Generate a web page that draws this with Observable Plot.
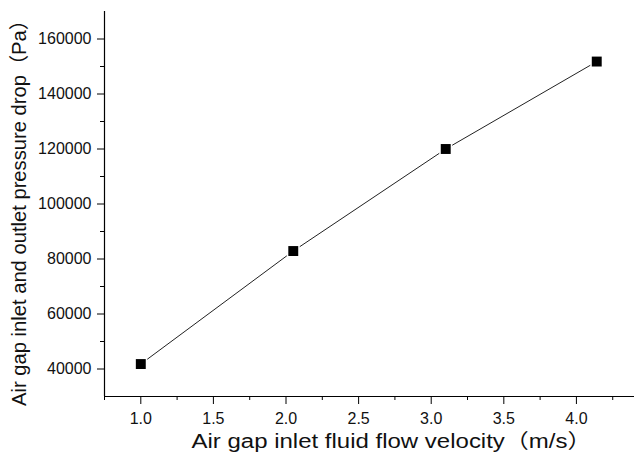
<!DOCTYPE html>
<html><head><meta charset="utf-8">
<script src="https://cdn.jsdelivr.net/npm/d3@7"></script>
<script src="https://cdn.jsdelivr.net/npm/@observablehq/plot@0.6"></script>
<style>body{margin:0;background:#fff}</style>
</head><body><div id="chart"></div>
<script>
const velocity = [1.0, 2.05, 3.1, 4.14];
const pressureDrop = [41800, 82900, 120000, 151800];
const xMajorTicks = [1.0, 1.5, 2.0, 2.5, 3.0, 3.5, 4.0];
const xMinorTicks = [0.75, 1.25, 1.75, 2.25, 2.75, 3.25, 3.75, 4.25];
const yMajorTicks = [40000, 60000, 80000, 100000, 120000, 140000, 160000];
const yMinorTicks = [50000, 70000, 90000, 110000, 130000, 150000];
const xTitle = "Air gap inlet fluid flow velocity（m/s）";
const yTitle = "Air gap inlet and outlet pressure drop（Pa）";

const data = velocity.map((v, i) => ({v, p: pressureDrop[i]}));
const font = "Arial, 'Liberation Sans', 'Noto Sans CJK SC', sans-serif";

const chart = Plot.plot({
  width: 634, height: 461,
  marginLeft: 104, marginRight: 0, marginTop: 11, marginBottom: 65,
  style: {fontFamily: font, background: "white", color: "#111"},
  x: {domain: [0.75, 4.4]},
  y: {domain: [30000, 170000]},
  marks: [
    Plot.axisX({ticks: xMajorTicks, tickSize: 8, tickPadding: 8, fontSize: 16, tickFormat: d => d.toFixed(1), label: null, stroke: "#000"}),
    Plot.axisX({ticks: xMinorTicks, tickSize: 4, tickFormat: () => "", label: null, stroke: "#000"}),
    Plot.axisY({ticks: yMajorTicks, tickSize: 7, tickPadding: 6, fontSize: 16, tickFormat: d => String(d), label: null, stroke: "#000"}),
    Plot.axisY({ticks: yMinorTicks, tickSize: 4, tickFormat: () => "", label: null, stroke: "#000"}),
    Plot.ruleX([0.75], {stroke: "#000", strokeWidth: 1.2}),
    Plot.ruleY([30000], {stroke: "#000", strokeWidth: 1.2}),
    Plot.line(data, {x: "v", y: "p", stroke: "#222", strokeWidth: 1}),
    Plot.dot(data, {x: "v", y: "p", symbol: "square", r: 5.6, fill: "#000", stroke: "#fff", strokeWidth: 3, paintOrder: "stroke"}),
    Plot.text([xTitle], {frameAnchor: "bottom", dy: 51, dx: 22, fontSize: 20, fill: "#111"}),
    Plot.text([yTitle], {frameAnchor: "left", textAnchor: "middle", rotate: -90, dx: -85, dy: 4, fontSize: 20, fill: "#111"})
  ]
});
d3.select(chart).selectAll("text").each(function() {
  const t = this.textContent;
  if (t === xTitle) d3.select(this).attr("textLength", 400).attr("lengthAdjust", "spacingAndGlyphs");
  if (t === yTitle) d3.select(this).attr("textLength", 396).attr("lengthAdjust", "spacingAndGlyphs");
});
document.getElementById("chart").appendChild(chart);
</script>
</body></html>
